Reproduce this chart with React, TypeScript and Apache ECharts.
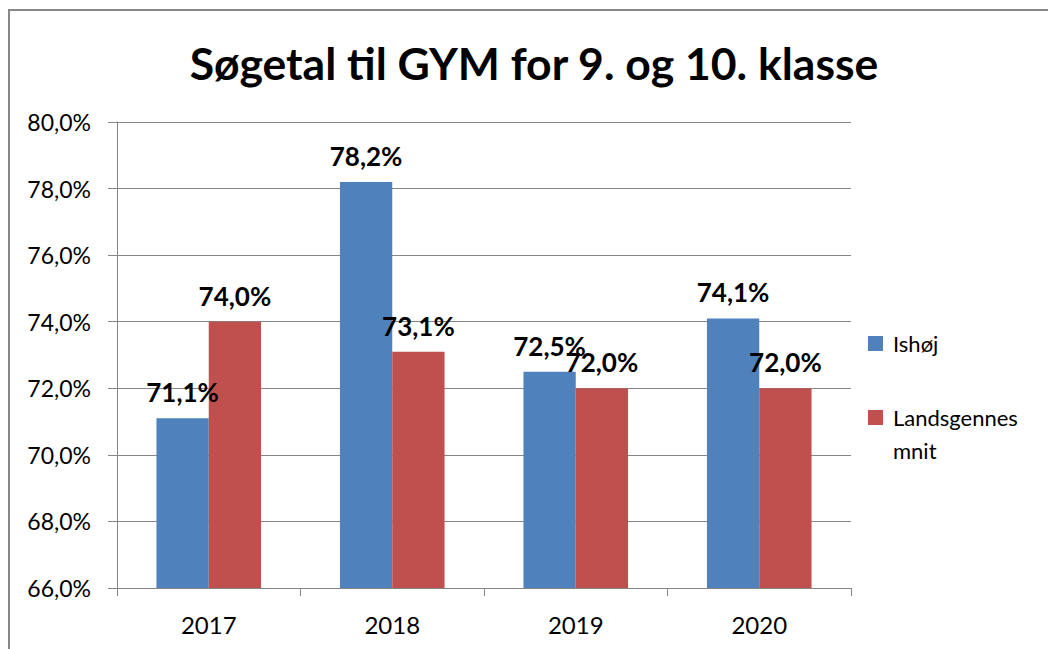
import React, { useEffect, useRef } from "react";
import * as echarts from "echarts";

const TITLE = "Søgetal til GYM for 9. og 10. klasse";
const YEARS = ["2017", "2018", "2019", "2020"];
const SERIES_NAMES = ["Ishøj", "Landsgennesmnit"];
const ISHOJ = [71.1, 78.2, 72.5, 74.1];
const LANDS = [74.0, 73.1, 72.0, 72.0];
const Y_MIN = 66;
const Y_MAX = 80;
const Y_STEP = 2;

const FONT = "Lato, 'Open Sans', sans-serif";
const pct = (v: number) => v.toFixed(1).replace(".", ",") + "%";

export default function App() {
  const ref = useRef<HTMLDivElement>(null);
  useEffect(() => {
    document.body.style.margin = "0";
    if (!ref.current) return;
    const chart = echarts.init(ref.current, null, { renderer: "svg" });
    const label = {
      show: true,
      position: "top",
      distance: 13,
      color: "#000",
      fontWeight: "bold",
      fontSize: 26,
      fontFamily: FONT,
      formatter: (p: any) => pct(p.value),
    };
    chart.setOption({
      animation: false,
      backgroundColor: "#fff",
      textStyle: { fontFamily: FONT },
      title: {
        text: TITLE,
        left: 529,
        textAlign: "center",
        top: 35,
        textStyle: { fontSize: 44.5, fontWeight: "bold", color: "#000", fontFamily: FONT },
      },
      graphic: [
        {
          type: "rect",
          shape: { x: 9, y: 10, width: 1200, height: 800 },
          style: { fill: "none", stroke: "#888", lineWidth: 2 },
          silent: true,
        },
      ],
      legend: [
        {
          data: [SERIES_NAMES[0]],
          orient: "vertical",
          left: 868,
          top: 327,
          padding: 0,
          itemWidth: 15,
          itemHeight: 15,
          icon: "rect",
          textStyle: { fontSize: 22, color: "#000", lineHeight: 33, padding: [0, 0, 0, 5], fontFamily: FONT },
        },
        {
          data: [SERIES_NAMES[1]],
          orient: "vertical",
          left: 868,
          top: 368,
          padding: 0,
          itemWidth: 15,
          itemHeight: 15,
          icon: "rect",
          formatter: (n: string) => " \n" + n.slice(0, 11) + "\n" + n.slice(11),
          textStyle: { fontSize: 22, color: "#000", lineHeight: 33, padding: [0, 0, 0, 5], fontFamily: FONT },
        },
      ],
      grid: { left: 117, right: 197, top: 122, bottom: 61 },
      xAxis: {
        type: "category",
        data: YEARS,
        axisLine: { lineStyle: { color: "#868686", width: 1 } },
        axisTick: { show: true, length: 8, lineStyle: { color: "#868686" } },
        axisLabel: { color: "#000", fontSize: 24, margin: 24, fontFamily: FONT },
      },
      yAxis: {
        type: "value",
        min: Y_MIN,
        max: Y_MAX,
        interval: Y_STEP,
        axisLine: { show: true, lineStyle: { color: "#868686", width: 1 } },
        axisTick: { show: true, length: 9, lineStyle: { color: "#868686" } },
        splitLine: { lineStyle: { color: "#868686", width: 1 } },
        axisLabel: { color: "#000", fontSize: 23, margin: 26, formatter: (v: number) => pct(v), fontFamily: FONT },
      },
      series: [
        {
          name: SERIES_NAMES[0],
          type: "bar",
          data: ISHOJ,
          itemStyle: { color: "#4F81BD" },
          barGap: "0%",
          barCategoryGap: "43%",
          label,
        },
        {
          name: SERIES_NAMES[1],
          type: "bar",
          data: LANDS,
          itemStyle: { color: "#C0504D" },
          barGap: "0%",
          barCategoryGap: "43%",
          label,
        },
      ],
    });
    return () => chart.dispose();
  }, []);
  return <div ref={ref} style={{ width: 1048, height: 649 }} />;
}
